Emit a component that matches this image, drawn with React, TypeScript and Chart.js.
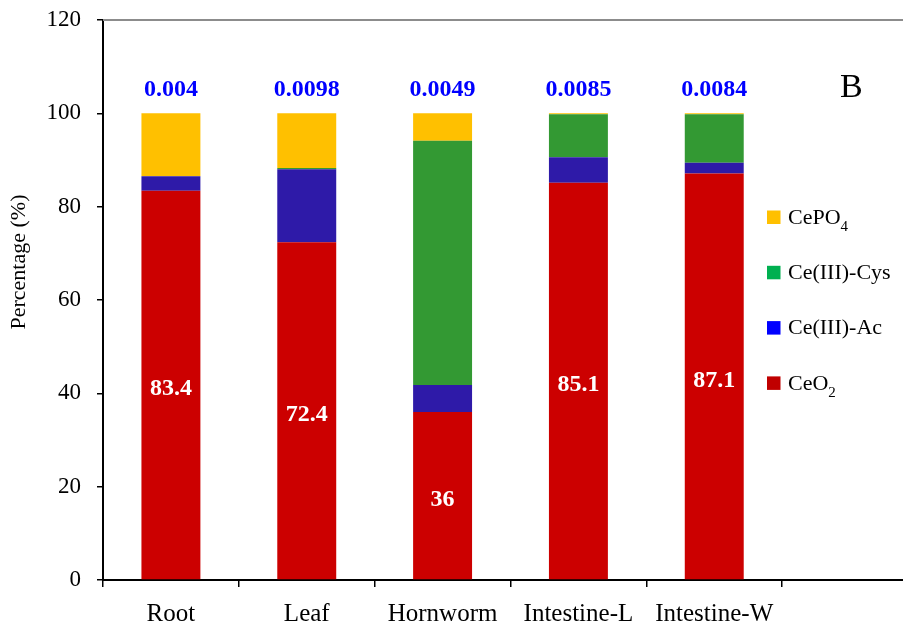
import React, { useEffect, useRef } from "react";
import { Chart, registerables } from "chart.js";

Chart.register(...registerables);

const categories = ["Root", "Leaf", "Hornworm", "Intestine-L", "Intestine-W", ""];
const ceo2 = [83.4, 72.4, 36, 85.1, 87.1];
const ceAc = [3.1, 15.6, 5.8, 5.5, 2.3];
const ceCys = [0, 0.3, 52.3, 9.2, 10.4];
const cePO4 = [13.5, 11.7, 5.9, 0.2, 0.2];
const topLabels = ["0.004", "0.0098", "0.0049", "0.0085", "0.0084"];
const yTicks = [0, 20, 40, 60, 80, 100, 120];
const yTitle = "Percentage (%)";

const FONT = "'Liberation Serif', 'Times New Roman', serif";

const legendItems = [
  { base: "CePO", sub: "4", color: "#FFC000" },
  { base: "Ce(III)-Cys", sub: "", color: "#00B050" },
  { base: "Ce(III)-Ac", sub: "", color: "#0000FF" },
  { base: "CeO", sub: "2", color: "#C00000" },
];

const overlayPlugin = {
  id: "overlay",
  beforeDatasetsDraw(chart: any) {
    const { ctx, chartArea } = chart;
    ctx.save();
    ctx.strokeStyle = "#8c8c8c";
    ctx.lineWidth = 2;
    ctx.beginPath();
    ctx.moveTo(chartArea.left, chartArea.top);
    ctx.lineTo(chartArea.right + 10, chartArea.top);
    ctx.stroke();
    ctx.restore();
  },
  afterDatasetsDraw(chart: any) {
    const { ctx, scales } = chart;
    const yScale = scales.y;
    const meta0 = chart.getDatasetMeta(0);
    ctx.save();
    ctx.textAlign = "center";
    ctx.textBaseline = "middle";
    // values inside CeO2 segments
    ctx.font = `bold 24px ${FONT}`;
    ctx.fillStyle = "#FFFFFF";
    meta0.data.forEach((bar: any, i: number) => {
      if (ceo2[i] == null) return;
      const cy = (bar.y + bar.base) / 2 + 4;
      ctx.fillText(String(ceo2[i]), bar.x, cy);
    });
    // labels above bars
    ctx.fillStyle = "#0000FF";
    meta0.data.forEach((bar: any, i: number) => {
      if (!topLabels[i]) return;
      const total = ceo2[i] + ceAc[i] + ceCys[i] + cePO4[i];
      const y = yScale.getPixelForValue(total) - 24;
      ctx.fillText(topLabels[i], bar.x, y);
    });
    // y axis title
    ctx.save();
    ctx.translate(19, 262);
    ctx.rotate(-Math.PI / 2);
    ctx.fillStyle = "#000";
    ctx.font = `22px ${FONT}`;
    ctx.fillText(yTitle, 0, 0);
    ctx.restore();
    // panel letter
    ctx.textAlign = "left";
    ctx.textBaseline = "alphabetic";
    ctx.fillStyle = "#000";
    ctx.font = `34px ${FONT}`;
    ctx.fillText("B", 840, 97);
    // legend
    const startY = 217;
    const step = 55.3;
    legendItems.forEach((it, k) => {
      const cy = startY + k * step;
      ctx.fillStyle = it.color;
      ctx.fillRect(767, cy - 6.5, 13.5, 13.5);
      ctx.fillStyle = "#000";
      ctx.font = `22px ${FONT}`;
      ctx.textBaseline = "middle";
      ctx.fillText(it.base, 788, cy + 1);
      if (it.sub) {
        const w = ctx.measureText(it.base).width;
        ctx.font = `15px ${FONT}`;
        ctx.fillText(it.sub, 788 + w, cy + 10);
      }
    });
    ctx.restore();
  },
};

export default function App() {
  const ref = useRef<HTMLCanvasElement | null>(null);
  useEffect(() => {
    if (!ref.current) return;
    const chart = new Chart(ref.current, {
      type: "bar",
      data: {
        labels: categories,
        datasets: [
          { label: "CeO2", data: ceo2, backgroundColor: "#CC0000" },
          { label: "Ce(III)-Ac", data: ceAc, backgroundColor: "#2E1AA8" },
          { label: "Ce(III)-Cys", data: ceCys, backgroundColor: "#339933" },
          { label: "CePO4", data: cePO4, backgroundColor: "#FFC000" },
        ],
      },
      options: {
        responsive: false,
        animation: false,
        layout: { padding: { left: 0, right: 7, top: 20, bottom: 0 } },
        datasets: {
          bar: { categoryPercentage: 1, barPercentage: 0.434, borderWidth: 0 },
        },
        plugins: {
          legend: { display: false },
          tooltip: { enabled: false },
          title: { display: false },
        },
        scales: {
          x: {
            stacked: true,
            grid: {
              offset: true,
              drawOnChartArea: false,
              drawTicks: true,
              tickLength: 7,
              color: "#000",
              lineWidth: 1.5,
            },
            border: { color: "#000", width: 2 },
            ticks: {
              color: "#000",
              font: { family: FONT, size: 25 },
              padding: 12,
              maxRotation: 0,
              autoSkip: false,
            },
            afterFit: (s: any) => {
              s.height = 46;
              s.paddingLeft = 0;
              s.paddingRight = 0;
            },
          },
          y: {
            stacked: true,
            min: 0,
            max: 120,
            afterBuildTicks: (s: any) => {
              s.ticks = yTicks.map((v) => ({ value: v }));
            },
            grid: {
              drawOnChartArea: false,
              drawTicks: true,
              tickLength: 6,
              color: "#000",
              lineWidth: 1.5,
            },
            border: { color: "#000", width: 2 },
            ticks: {
              color: "#000",
              font: { family: FONT, size: 23 },
              padding: 16,
            },
            afterFit: (s: any) => {
              s.width = 103;
              s.paddingTop = 0;
              s.paddingBottom = 0;
            },
          },
        },
      },
      plugins: [overlayPlugin],
    });
    return () => chart.destroy();
  }, []);
  return (
    <div
      style={{
        position: "fixed",
        left: 0,
        top: 0,
        width: 903,
        height: 626,
        overflow: "hidden",
        background: "#fff",
      }}
    >
      <canvas ref={ref} width={925} height={626} style={{ width: 925, height: 626, display: "block" }} />
    </div>
  );
}
